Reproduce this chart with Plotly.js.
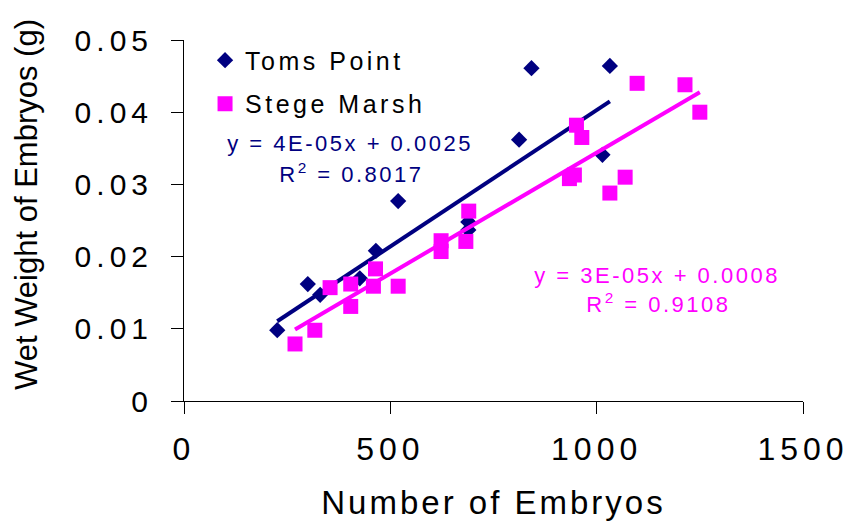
<!DOCTYPE html>
<html>
<head>
<meta charset="utf-8">
<script src="https://cdn.plot.ly/plotly-3.0.1.min.js"></script>
<style>
  html, body { margin: 0; padding: 0; background: #fff; }
  #chart { width: 857px; height: 529px; }
  .xtick text { letter-spacing: 5px; }
  .ytick text { letter-spacing: 5px; }
  .g-xtitle text { letter-spacing: 3px; }
  .legendtext { letter-spacing: 3.5px; }
  .annotation[data-index="0"] text,
  .annotation[data-index="1"] text,
  .annotation[data-index="2"] text,
  .annotation[data-index="3"] text { letter-spacing: 2.5px; }
</style>
</head>
<body>
<div id="chart"></div>
<script>
// ---- Data ----
const seriesNames = ["Toms Point", "Stege Marsh"];

const tomsX = [226, 300, 330, 426, 465, 519, 689, 689, 812, 842, 1032, 1014];
const tomsY = [0.0098, 0.0162, 0.0147, 0.0170, 0.0208, 0.0277, 0.0248, 0.0237, 0.0362, 0.0461, 0.0464, 0.0341];

const stegeX = [269, 317, 354, 404, 404, 459, 464, 519, 623, 623, 690, 683, 951, 964, 934, 946, 1069, 1032, 1098, 1214, 1250];
const stegeY = [0.0079, 0.0098, 0.0157, 0.0162, 0.0131, 0.0159, 0.0183, 0.0159, 0.0222, 0.0207, 0.0263, 0.0221, 0.0382, 0.0365, 0.0308, 0.0313, 0.0310, 0.0288, 0.0440, 0.0438, 0.0400];

// Linear trend lines as drawn in the picture: [Toms Point, Stege Marsh]
const trendSlope = [3.78e-5, 3.35e-5];
const trendIntercept = [0.0025, 0.0009];

const equationText = ["y = 4E-05x + 0.0025", "y = 3E-05x + 0.0008"];
const r2Text = ["R<sup>2</sup> = 0.8017", "R<sup>2</sup> = 0.9108"];

const xTickVals = [0, 500, 1000, 1500];
const yTickVals = [0, 0.01, 0.02, 0.03, 0.04, 0.05];
const yTickText = ["0", "0.01", "0.02", "0.03", "0.04", "0.05"];

// ---- Styles ----
const navy = "#000080";
const magenta = "#FF00FF";
const FONT = "Liberation Sans, Arial, sans-serif";

function trendLine(xs, i) {
  const xmin = Math.min.apply(null, xs), xmax = Math.max.apply(null, xs);
  return {
    x: [xmin, xmax],
    y: [trendSlope[i] * xmin + trendIntercept[i], trendSlope[i] * xmax + trendIntercept[i]]
  };
}
const tTrend = trendLine(tomsX, 0);
const sTrend = trendLine(stegeX, 1);

const traces = [
  { x: tTrend.x, y: tTrend.y, mode: "lines", type: "scatter", showlegend: false, hoverinfo: "skip",
    line: { color: navy, width: 4 } },
  { x: tomsX, y: tomsY, mode: "markers", type: "scatter", name: seriesNames[0], legendgroup: "a",
    marker: { symbol: "diamond", size: 12.5, color: navy, line: { width: 0 } } },
  { x: stegeX, y: stegeY, mode: "markers", type: "scatter", name: seriesNames[1], legendgroup: "b",
    marker: { symbol: "square", size: 15, color: magenta, line: { width: 0 } } },
  { x: sTrend.x, y: sTrend.y, mode: "lines", type: "scatter", showlegend: false, hoverinfo: "skip",
    line: { color: magenta, width: 4 } }
];

const layout = {
  width: 857, height: 529,
  margin: { l: 184, r: 54, t: 40, b: 128, pad: 0 },
  paper_bgcolor: "#ffffff", plot_bgcolor: "#ffffff",
  font: { family: FONT, color: "#000" },
  showlegend: true,
  legend: {
    x: 0.034, y: 1.007, xanchor: "left", yanchor: "top",
    bgcolor: "rgba(0,0,0,0)", borderwidth: 0,
    font: { family: FONT, size: 25, color: "#000" },
    traceorder: "grouped", tracegroupgap: 8
  },
  xaxis: {
    range: [0, 1500], tickvals: xTickVals, ticktext: xTickVals.map(String),
    showgrid: false, zeroline: false, showline: true, linecolor: "#000", linewidth: 1,
    ticks: "outside", ticklen: 12, tickcolor: "#000", tickwidth: 1,
    tickfont: { family: FONT, size: 32, color: "#000" }, ticklabelstandoff: 8,
    title: { text: "Number of Embryos", font: { family: FONT, size: 33, color: "#000" }, standoff: 24 },
    automargin: false, fixedrange: true
  },
  yaxis: {
    range: [0, 0.05], tickvals: yTickVals, ticktext: yTickText,
    showgrid: false, zeroline: false, showline: true, linecolor: "#000", linewidth: 1,
    ticks: "outside", ticklen: 12, tickcolor: "#000", tickwidth: 1,
    tickfont: { family: FONT, size: 30, color: "#000" }, ticklabelstandoff: 12,
    automargin: false, fixedrange: true
  },
  annotations: [
    { xref: "x", yref: "y", x: 402, y: 0.03573, text: equationText[0], showarrow: false,
      xanchor: "center", yanchor: "middle", font: { family: FONT, size: 22, color: navy } },
    { xref: "x", yref: "y", x: 405, y: 0.03158, text: r2Text[0], showarrow: false,
      xanchor: "center", yanchor: "middle", font: { family: FONT, size: 22, color: navy } },
    { xref: "x", yref: "y", x: 1146, y: 0.01745, text: equationText[1], showarrow: false,
      xanchor: "center", yanchor: "middle", font: { family: FONT, size: 22, color: magenta } },
    { xref: "x", yref: "y", x: 1151, y: 0.01357, text: r2Text[1], showarrow: false,
      xanchor: "center", yanchor: "middle", font: { family: FONT, size: 22, color: magenta } },
    { xref: "paper", yref: "paper", x: -0.2536, y: 0.543, text: "Wet Weight of Embryos (g)",
      textangle: -90, showarrow: false, xanchor: "center", yanchor: "middle",
      font: { family: FONT, size: 31, color: "#000" } }
  ]
};

Plotly.newPlot("chart", traces, layout, { staticPlot: true, displayModeBar: false });
</script>
</body>
</html>
